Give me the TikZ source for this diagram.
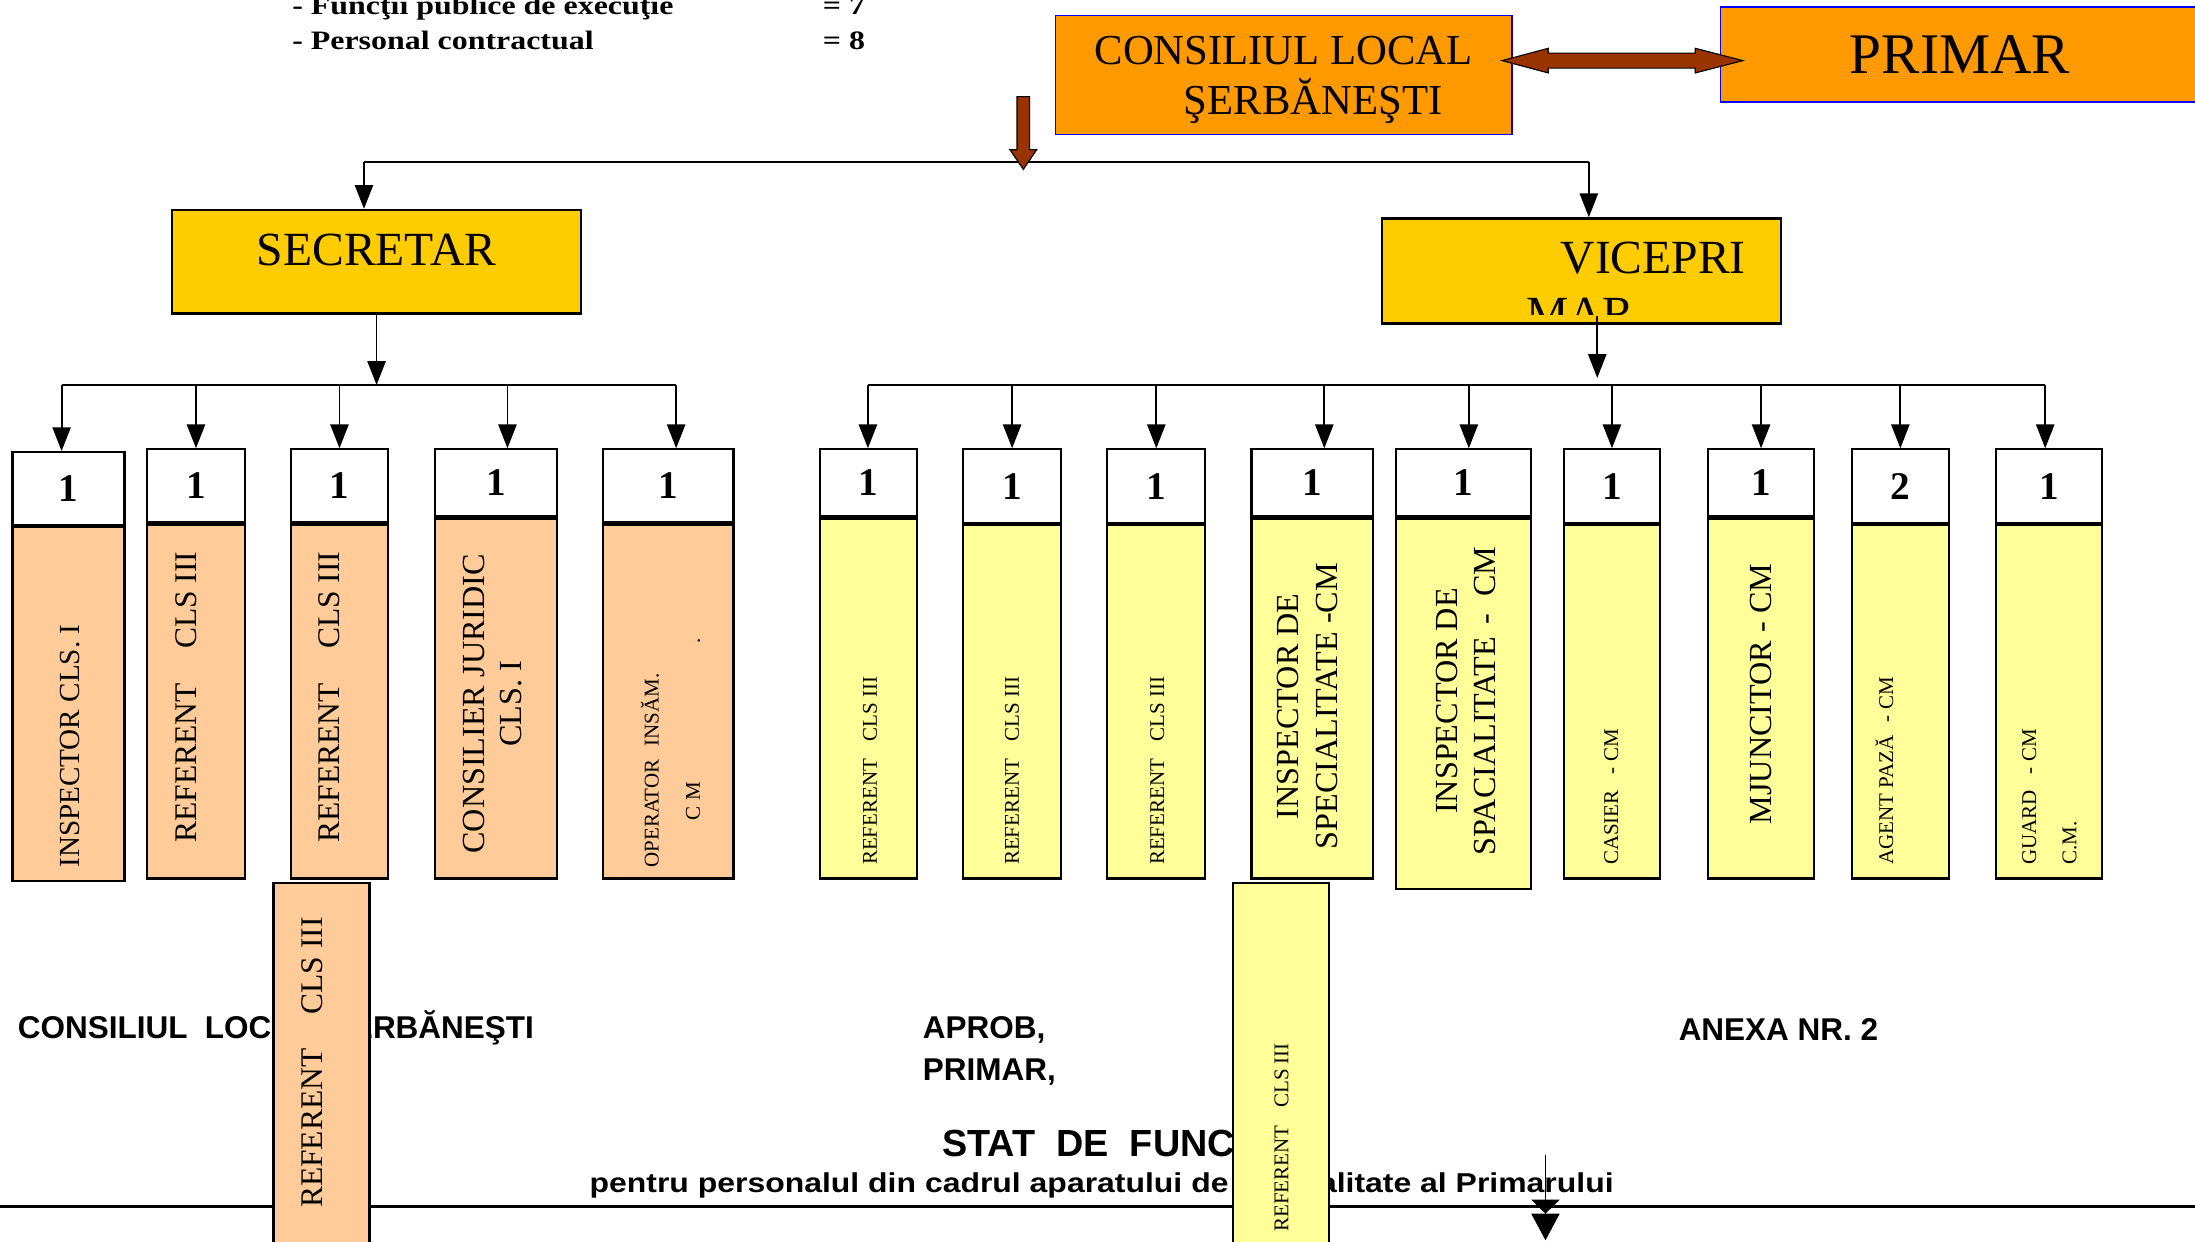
\documentclass[tikz,border=0pt]{standalone}
\usepackage{fontspec}
\setmainfont{Liberation Serif}
\setsansfont{Liberation Sans}
\newfontfamily\wideserif[FakeStretch=1.2]{Liberation Serif}
\newfontfamily\widesans[FakeStretch=1.17]{Liberation Sans}
\usetikzlibrary{arrows.meta,positioning,calc}
\newcommand{\fsz}[2]{\fontsize{#1}{#2}\selectfont}
\definecolor{orangec}{HTML}{FF9900}
\definecolor{goldc}{HTML}{FFCC00}
\definecolor{peachc}{HTML}{FFCC99}
\definecolor{lemonc}{HTML}{FFFF99}
\definecolor{brownc}{HTML}{993300}

\begin{document}
\begin{tikzpicture}[x=1pt,y=-1pt]
\tikzstyle{every node}+=[inner sep=0pt]
\tikzstyle{topbox}=[draw=blue, line width=1.2pt, fill=orangec]
\tikzstyle{midbox}=[draw=black, line width=1.6pt, fill=goldc]
\tikzstyle{hdr}=[draw=black, line width=1.6pt, fill=white, font=\bfseries\fsz{28}{28}]
\tikzstyle{obody}=[draw=black, line width=1.6pt, fill=peachc]
\tikzstyle{ybody}=[draw=black, line width=1.6pt, fill=lemonc]
\tikzstyle{vtext}=[rotate=90, anchor=west]
\tikzstyle{arr}=[line width=1.3pt, -{Triangle[length=17pt,width=13pt]}]
\tikzstyle{bus}=[line width=1.3pt]
\tikzstyle{brownarrow}=[draw=black, line width=0.8pt, fill=brownc]
\tikzstyle{topnote}=[anchor=base west, font=\wideserif\bfseries\fsz{19}{22}]
\tikzstyle{sans}=[anchor=base west, font=\sffamily\bfseries\fsz{22.5}{26}]
\useasboundingbox (0,0) rectangle (1568,887);
\clip (0,0) rectangle (1568,887);

% header notes
\node[topnote] (fpe) at (208.6,10.7) {- Funcţii publice de execuţie};
\node[topnote] (fpev) at (587.7,10.7) {= 7};
\node[topnote] (pc) at (208.6,35.7) {- Personal contractual};
\node[topnote] (pcv) at (587.7,35.7) {= 8};

% consiliu and primar
\node[topbox, minimum width=326pt, minimum height=85pt] (cl) at (917,53.5) {};
\node[align=center, font=\fsz{30.5}{35.7}] (clt) at (917,57) {CONSILIUL LOCAL\\\hspace*{42pt}ŞERBĂNEŞTI};
\node[topbox, minimum width=342pt, minimum height=68pt, font=\fsz{41}{41}] (pr) at (1400,39) {PRIMAR};
\coordinate (dl) at (1073,43.3);
\coordinate (dr) at (1245,43.3);
\filldraw[brownarrow] (dl) -- ++(33,-8.8) -- ++(0,3.4) -- ($(dr)+(-34,-5.4)$) -- ++(0,-3.4) -- (dr) -- ++(-34,8.8) -- ++(0,-3.4) -- ($(dl)+(33,5.4)$) -- ++(0,3.4) -- cycle;

% top bus
\coordinate (bd) at (731,121);
\coordinate (tl) at (260,116);
\coordinate (tr) at (1135,116);
\draw[bus] (tl) -- (tr);
\filldraw[brownarrow] (bd) -- ++(-9.5,-14) -- ++(5,0) -- ++(0,-38) -- ++(9,0) -- ++(0,38) -- ++(5,0) -- cycle;

% secretar and viceprimar
\node[midbox, minimum width=292pt, minimum height=74pt] (sec) at (269,187) {};
\node[font=\fsz{34}{34}] (sect) at (269,178.7) {SECRETAR};
\node[midbox, minimum width=285pt, minimum height=75pt] (vp) at (1129.5,193.5) {};
\begin{scope}
\clip (vp.north west) rectangle ([yshift=7pt]vp.south east);
\node[font=\fsz{34}{34}] (vpt) at (1181,184.5) {VICEPRI};
\node[font=\fsz{34}{34}] (vpm) at (1129,224.5) {MAR};
\end{scope}
\draw[arr] (tl) -- (tl |- sec.north);
\draw[arr] (tr) -- (tr |- vp.north);

% secretar subordinates
\coordinate (sl) at (44,275);
\coordinate (sr) at (483,275);
\draw[arr] (sec.south) -- (sec.south |- sl);
\draw[bus] (sl) -- (sr);
\node[hdr, minimum width=80pt, minimum height=52pt] (s1) at (49,349) {1};
\node[obody, minimum width=80pt, minimum height=253pt, below=0pt of s1] (s1b) {};
\node[hdr, minimum width=70pt, minimum height=52pt] (s2) at (140,347) {1};
\node[obody, minimum width=70pt, minimum height=253pt, below=0pt of s2] (s2b) {};
\node[hdr, minimum width=69pt, minimum height=52pt] (s3) at (242.5,347) {1};
\node[obody, minimum width=69pt, minimum height=253pt, below=0pt of s3] (s3b) {};
\node[hdr, minimum width=87pt, minimum height=48pt] (s4) at (354.5,345) {1};
\node[obody, minimum width=87pt, minimum height=257pt, below=0pt of s4] (s4b) {};
\node[hdr, minimum width=93pt, minimum height=52pt] (s5) at (477.5,347) {1};
\node[obody, minimum width=93pt, minimum height=253pt, below=0pt of s5] (s5b) {};
\draw[arr] (sl) -- (sl |- s1.north);
\draw[arr] (s2.north |- sl) -- (s2.north);
\draw[arr] (s3.north |- sl) -- (s3.north);
\draw[arr] ([xshift=8pt]s4.north |- sl) -- ([xshift=8pt]s4.north);
\draw[arr] (sr) -- (sr |- s5.north);
\node[vtext, font=\fsz{20.8}{24}] (s1t) at (50,620) {INSPECTOR CLS. I};
\node[vtext, font=\fsz{22.5}{26}] (s2t) at (133,602) {REFERENT\hspace{24.5pt}CLS III};
\node[vtext, font=\fsz{22.5}{26}] (s3t) at (235.5,602) {REFERENT\hspace{24.5pt}CLS III};
\node[vtext, align=center, font=\fsz{23}{26}] (s4t) at (352,610) {CONSILIER JURIDIC\\CLS. I};
\node[vtext, align=left, font=\fsz{15}{29.4}] (s5t) at (479,620) {OPERATOR\hspace{9.5pt}INSĂM.\\\hspace*{34pt}C M\hspace{99pt}.};

% viceprimar subordinates
\coordinate (vbus) at (1141,275);
\coordinate (vl) at (620,275);
\coordinate (vr) at (1461,275);
\draw[arr] ($(vp.south -| vbus)+(0,-6)$) -- ($(vbus)+(0,-5)$);
\draw[bus] (vl) -- (vr);
\node[hdr, minimum width=69.5pt, minimum height=48pt] (v1) at (620.25,345) {1};
\node[ybody, minimum width=69.5pt, minimum height=257pt, below=0pt of v1] (v1b) {};
\node[hdr, minimum width=70pt, minimum height=52.6pt] (v2) at (723,347.3) {1};
\node[ybody, minimum width=70pt, minimum height=252.4pt, below=0pt of v2] (v2b) {};
\node[hdr, minimum width=70pt, minimum height=52.6pt] (v3) at (826,347.3) {1};
\node[ybody, minimum width=70pt, minimum height=252.4pt, below=0pt of v3] (v3b) {};
\node[hdr, minimum width=87pt, minimum height=48pt] (v4) at (937.5,345) {1};
\node[ybody, minimum width=87pt, minimum height=257pt, below=0pt of v4] (v4b) {};
\node[hdr, minimum width=96.5pt, minimum height=48pt] (v5) at (1045.25,345) {1};
\node[ybody, minimum width=96.5pt, minimum height=264.5pt, below=0pt of v5] (v5b) {};
\node[hdr, minimum width=69pt, minimum height=52.6pt] (v6) at (1151.5,347.3) {1};
\node[ybody, minimum width=69pt, minimum height=252.4pt, below=0pt of v6] (v6b) {};
\node[hdr, minimum width=76pt, minimum height=48pt] (v7) at (1258,345) {1};
\node[ybody, minimum width=76pt, minimum height=257pt, below=0pt of v7] (v7b) {};
\node[hdr, minimum width=69pt, minimum height=52.6pt] (v8) at (1357.5,347.3) {2};
\node[ybody, minimum width=69pt, minimum height=252.4pt, below=0pt of v8] (v8b) {};
\node[hdr, minimum width=75.5pt, minimum height=52.6pt] (v9) at (1463.75,347.3) {1};
\node[ybody, minimum width=75.5pt, minimum height=252.4pt, below=0pt of v9] (v9b) {};
\draw[arr] (vl) -- (vl |- v1.north);
\draw[arr] (v2.north |- vl) -- (v2.north);
\draw[arr] (v3.north |- vl) -- (v3.north);
\draw[arr] ([xshift=8.5pt]v4.north |- vl) -- ([xshift=8.5pt]v4.north);
\draw[arr] ([xshift=4pt]v5.north |- vl) -- ([xshift=4pt]v5.north);
\draw[arr] (v6.north |- vl) -- (v6.north);
\draw[arr] (v7.north |- vl) -- (v7.north);
\draw[arr] (v8.north |- vl) -- (v8.north);
\draw[arr] (vr) -- (vr |- v9.north);
\node[vtext, font=\fsz{15}{18}] (v1t) at (621.5,618) {REFERENT\hspace{12.5pt}CLS III};
\node[vtext, font=\fsz{15}{18}] (v2t) at (723,618) {REFERENT\hspace{12.5pt}CLS III};
\node[vtext, font=\fsz{15}{18}] (v3t) at (826.7,618) {REFERENT\hspace{12.5pt}CLS III};
\node[vtext, align=center, font=\fsz{23}{28}] (v4t) at (934,607) {INSPECTOR DE\\SPECIALITATE -CM};
\node[vtext, align=center, font=\fsz{23}{27}] (v5t) at (1047.5,611) {INSPECTOR DE\\SPACIALITATE\hspace{9pt}-\hspace{12pt}CM};
\node[vtext, font=\fsz{15}{18}] (v6t) at (1151,618) {CASIER\hspace{11.5pt}- CM};
\node[vtext, font=\fsz{23}{26}] (v7t) at (1258,589) {MJUNCITOR - CM};
\node[vtext, font=\fsz{15}{18}] (v8t) at (1346,618) {AGENT PAZĂ\hspace{9.6pt}- CM};
\node[vtext, align=left, font=\fsz{15}{28.6}] (v9t) at (1464,618) {GUARD\hspace{11.5pt}- CM\\C.M.};

% bottom titles
\node[sans] (bcl) at (12.5,741.6) {CONSILIUL\ \ LOCAL\ \ ŞERBĂNEŞTI};
\node[sans] (apr) at (659,742) {APROB,};
\node[sans] (prm) at (659,772) {PRIMAR,};
\node[sans] (anx) at (1199,743) {ANEXA NR. 2};
\node[sans, font=\sffamily\bfseries\fsz{27}{30}] (stat) at (673,826.4) {STAT\ \ DE\ \ FUNCŢII};
\node[sans, font=\widesans\bfseries\fsz{19.5}{22}] (pent) at (421,852) {pentru personalul din cadrul aparatului de specialitate al Primarului};
\coordinate (hl) at (0,862);
\coordinate (hr) at (1568,862);
\draw[line width=2pt] (hl) -- (hr);

% loose boxes
\node[obody, minimum width=68.6pt, minimum height=270pt, anchor=north] (xo) at (229.7,630) {};
\node[vtext, font=\fsz{22.5}{26}] (xot) at (223,863) {REFERENT\hspace{24.5pt}CLS III};
\node[ybody, minimum width=68.5pt, minimum height=270pt, anchor=north] (xy) at (915.25,630) {};
\node[vtext, font=\fsz{15}{18}] (xyt) at (915.4,880) {REFERENT\hspace{12.6pt}CLS III};
\coordinate (ba1) at (1104,825);
\coordinate (ba2) at (1104,886);
\draw[line width=1.3pt, -{Triangle[length=10pt,width=20pt]Triangle[length=19pt,width=20pt]}] (ba1) -- (ba2);
\end{tikzpicture}
\end{document}
